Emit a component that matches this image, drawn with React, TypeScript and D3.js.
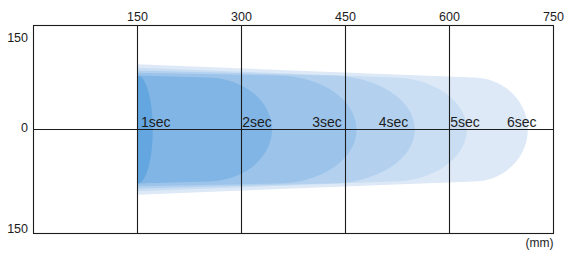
import React from "react";
import * as d3 from "d3";

// Data (mm)
const seconds = ["1sec", "2sec", "3sec", "4sec", "5sec", "6sec"];
const reachMm = [172, 344, 466, 550, 625, 713];          // tip of each zone
const shoulderMm = [150, 250, 351, 427, 517, 634];       // where the rounded end starts
const startHalfMm = [78, 78, 82, 85, 89, 94];            // half width at 150 mm
const endHalfMm = [78, 75, 78, 78, 75, 75];              // half width at shoulder
const labelMm = [155, 301, 402, 498, 601, 683];          // label start
const xTicks = [150, 300, 450, 600, 750];
const yTicks = [150, 0, -150];
const gridX = [150, 300, 450, 600];
const startMm = 150;

const colors = ["#64a6df", "#80b5e5", "#9cc4ea", "#b3d1ef", "#c9def3", "#dde9f7"];

export default function App() {
  const W = 580, H = 261;
  const x = d3.scaleLinear().domain([0, 750]).range([33.5, 553.5]);
  const y = d3.scaleLinear().domain([150, -150]).range([25.5, 233.5]);

  const shapePath = (i: number) => {
    const x0 = x(startMm);
    const xs = x(shoulderMm[i]);
    const xt = x(reachMm[i]);
    const rx = xt - xs;
    const ry = y(0) - y(endHalfMm[i]);
    const p = d3.path();
    p.moveTo(x0, y(startHalfMm[i]));
    p.lineTo(xs, y(endHalfMm[i]));
    const k = 0.5523;
    p.bezierCurveTo(xs + rx * k, y(endHalfMm[i]), xt, y(0) - ry * k, xt, y(0));
    p.bezierCurveTo(xt, y(0) + ry * k, xs + rx * k, y(-endHalfMm[i]), xs, y(-endHalfMm[i]));
    p.lineTo(x0, y(-startHalfMm[i]));
    p.closePath();
    return p.toString();
  };

  const order = d3.range(seconds.length).reverse();
  const font = "'Liberation Sans', Arial, Helvetica, sans-serif";
  const ink = "#1c1c1c";

  return (
    <svg width={W} height={H} style={{ position: "absolute", left: 0, top: 0 }} fontFamily={font}>
      <rect x={0} y={0} width={W} height={H} fill="#fff" />
      {order.map((i) => (
        <path key={seconds[i]} d={shapePath(i)} fill={colors[i]} />
      ))}
      {gridX.map((v) => (
        <line key={v} x1={Math.floor(x(v)) + 0.5} x2={Math.floor(x(v)) + 0.5} y1={y(150)} y2={y(-150)} stroke={ink} strokeWidth={1.1} />
      ))}
      <line x1={x(0)} x2={x(750)} y1={y(0)} y2={y(0)} stroke={ink} strokeWidth={1.1} />
      <rect x={x(0)} y={y(150)} width={x(750) - x(0)} height={y(-150) - y(150)} fill="none" stroke={ink} strokeWidth={1.1} />
      {seconds.map((s, i) => (
        <text key={s} x={x(labelMm[i])} y={y(0) - 3} fontSize={14} fill={ink}>{s}</text>
      ))}
      {xTicks.map((v) => (
        <text key={v} x={x(v)} y={21} fontSize={12.5} textAnchor="middle" fill={ink}>{v}</text>
      ))}
      {yTicks.map((v) => (
        <text key={v} x={28} y={v === 150 ? y(v) + 16.5 : v === 0 ? y(v) + 2 : y(v) - 0.5}
          fontSize={12.5} textAnchor="end" fill={ink}>{Math.abs(v)}</text>
      ))}
      <text x={x(750)} y={247} fontSize={12} textAnchor="end" fill={ink}>(mm)</text>
    </svg>
  );
}
